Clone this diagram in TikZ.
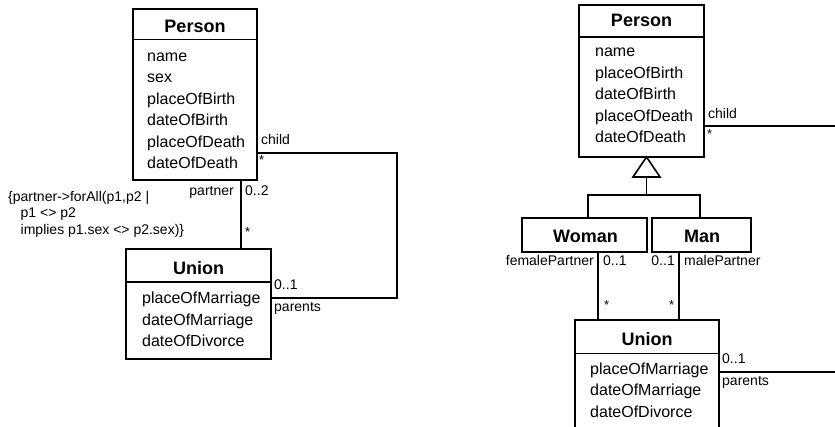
\documentclass[tikz,border=0pt]{standalone}
\usepackage{fontspec}
\setmainfont{Liberation Sans}
\begin{document}
\begin{tikzpicture}[x=1pt,y=-1pt,
  box/.style={draw, line width=1.6pt, rectangle, inner sep=0pt, outer sep=0pt, anchor=north west},
  conn/.style={line width=1.6pt},
  title/.style={font=\fontsize{18}{20}\selectfont\bfseries, anchor=base, inner sep=0pt},
  attr/.style={font=\fontsize{16}{18}\selectfont, anchor=mid west, inner sep=0pt},
  lbl/.style={font=\fontsize{14}{16}\selectfont, inner sep=0pt},
  star/.style={font=\fontsize{13}{14}\selectfont, inner sep=0pt, anchor=north west}]
\useasboundingbox (0,0) rectangle (835,427);
\clip (0,0) rectangle (835,427);
\fill[white] (0,0) rectangle (835,427);
% ---------- left diagram ----------
\node[box, minimum width=124, minimum height=171] (p1) at (133,9) {};
\draw[conn] ([yshift=-30.5pt]p1.north west) -- ([yshift=-30.5pt]p1.north east);
\node[title] (p1t) at (195,32.3) {Person};
\node[attr] (p1a1) at (147,58.5) {name};
\node[attr] (p1a2) at (147,80) {sex};
\node[attr] (p1a3) at (147,101.5) {placeOfBirth};
\node[attr] (p1a4) at (147,123) {dateOfBirth};
\node[attr] (p1a5) at (147,144.5) {placeOfDeath};
\node[attr] (p1a6) at (147,166) {dateOfDeath};

\node[box, minimum width=145, minimum height=110] (u1) at (126,249) {};
\draw[conn] ([yshift=-33pt]u1.north west) -- ([yshift=-33pt]u1.north east);
\node[title] (u1t) at (198.5,275) {Union};
\node[attr] (u1a1) at (142,301) {placeOfMarriage};
\node[attr] (u1a2) at (142,322.5) {dateOfMarriage};
\node[attr] (u1a3) at (142,344) {dateOfDivorce};

\coordinate (k1) at (397,153);
\coordinate (k2) at (397,298);
\draw[conn] (p1.east |- k1) -- (k1) -- (k2) -- (u1.east |- k2);
\coordinate (pp) at (241,0);
\draw[conn] (p1.south -| pp) -- (u1.north -| pp);

\node[lbl, anchor=base west] (lchild) at (261,145) {child};
\node[star] (lstar1) at (259,155) {*};
\node[lbl, anchor=base east] (lpartner) at (234,196) {partner};
\node[lbl, anchor=base west] (l02) at (245,196) {0..2};
\node[star] (lstar2) at (245,227) {*};
\node[lbl, anchor=base west] (l01) at (274,290) {0..1};
\node[lbl, anchor=base west] (lparents) at (274,311.5) {parents};

\node[lbl, anchor=base west] (con1) at (8,201.5) {\{partner->forAll(p1,p2 |};
\node[lbl, anchor=base west] (con2) at (20.5,218) {p1 <> p2};
\node[lbl, anchor=base west] (con3) at (20.5,234.5) {implies p1.sex <> p2.sex)\}};

% ---------- right diagram ----------
\node[box, minimum width=125, minimum height=152] (p2) at (579,5) {};
\draw[conn] ([yshift=-32pt]p2.north west) -- ([yshift=-32pt]p2.north east);
\node[title] (p2t) at (641.5,26.7) {Person};
\node[attr] (p2a1) at (595,54) {name};
\node[attr] (p2a2) at (595,75.5) {placeOfBirth};
\node[attr] (p2a3) at (595,97) {dateOfBirth};
\node[attr] (p2a4) at (595,118.5) {placeOfDeath};
\node[attr] (p2a5) at (595,140) {dateOfDeath};

\node[box, minimum width=125, minimum height=34] (w) at (522,218) {};
\node[title] (wt) at (585.5,242.3) {Woman};
\node[box, minimum width=99, minimum height=34] (m) at (652,218) {};
\node[title] (mt) at (702,242.3) {Man};

\node[box, minimum width=144, minimum height=140] (u2) at (575,320) {};
\draw[conn] ([yshift=-33.5pt]u2.north west) -- ([yshift=-33.5pt]u2.north east);
\node[title] (u2t) at (647,345) {Union};
\node[attr] (u2a1) at (590,371.7) {placeOfMarriage};
\node[attr] (u2a2) at (590,393.2) {dateOfMarriage};
\node[attr] (u2a3) at (590,414.7) {dateOfDivorce};

% generalization
\coordinate (g) at (646.5,0);
\draw[conn, line join=miter] (p2.south -| g) -- ++(-13.5,20) -- ++(27,0) -- cycle;
\coordinate (gb) at (646.5,177);
\coordinate (gh) at (646.5,195);
\coordinate (wl) at (588,195);
\coordinate (ml) at (700,195);
\draw[conn] (gb) -- (gh);
\draw[conn] (w.north -| wl) -- (wl) -- (ml) -- (m.north -| ml);

% associations
\coordinate (k3) at (840,126);
\draw[conn] (p2.east |- k3) -- (k3);
\coordinate (k4) at (840,372);
\draw[conn] (u2.east |- k4) -- (k4);
\coordinate (fx) at (598,0);
\coordinate (mx) at (679,0);
\draw[conn] (w.south -| fx) -- (u2.north -| fx);
\draw[conn] (m.south -| mx) -- (u2.north -| mx);

\node[lbl, anchor=base west] (rchild) at (708,119) {child};
\node[star] (rstar1) at (707,129) {*};
\node[lbl, anchor=base east] (rfem) at (594,266) {femalePartner};
\node[lbl, anchor=base west] (rf01) at (603,266) {0..1};
\node[lbl, anchor=base east] (rm01) at (675,266) {0..1};
\node[lbl, anchor=base west] (rmale) at (684,266) {malePartner};
\node[star] (rstar2) at (604,300) {*};
\node[star] (rstar3) at (669,300) {*};
\node[lbl, anchor=base west] (r01) at (722,363.3) {0..1};
\node[lbl, anchor=base west] (rparents) at (722,385) {parents};
\end{tikzpicture}
\end{document}
